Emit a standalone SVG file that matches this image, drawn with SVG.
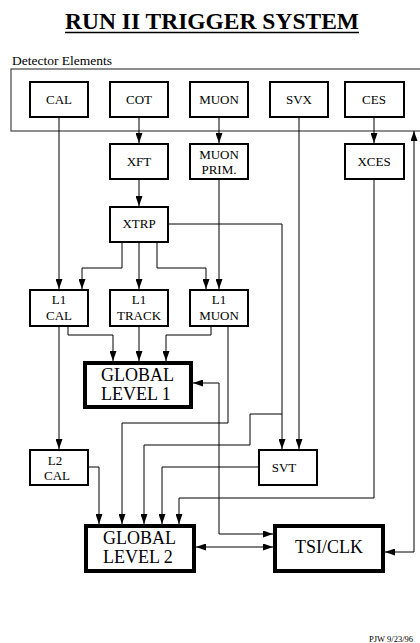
<svg xmlns="http://www.w3.org/2000/svg" width="420" height="643" viewBox="0 0 420 643">
<style>
text{font-family:"Liberation Serif","Times New Roman",serif;fill:#000}
.box{fill:#fff;stroke:#000;stroke-width:2}
.thick{fill:#fff;stroke:#000;stroke-width:4}
.lbl{font-size:13px;text-anchor:middle}
.big{font-size:18px}
.c{fill:none;stroke:#000;stroke-width:1}
</style>
<defs>
<marker id="ah" markerUnits="userSpaceOnUse" markerWidth="10" markerHeight="7" refX="10" refY="3.5" orient="auto-start-reverse">
<path d="M0,0 L10,3.5 L0,7 z" fill="#000"/>
</marker>
</defs>
<rect width="420" height="643" fill="#fff"/>
<text x="212" y="29" font-size="23.5" font-weight="bold" text-anchor="middle">RUN II TRIGGER SYSTEM</text>
<line x1="65" y1="32.5" x2="359" y2="32.5" stroke="#000" stroke-width="1.5"/>
<text x="12" y="65" font-size="13.5">Detector Elements</text>
<rect id="detector-elements" x="11" y="69" width="420" height="62" fill="none" stroke="#444" stroke-width="1.2"/>

<g id="connectors" class="c" marker-end="url(#ah)">
<path class="c" d="M59,118 V289" marker-end="url(#ah)"/>
<path class="c" d="M139,118 V143" marker-end="url(#ah)"/>
<path class="c" d="M219,118 V143" marker-end="url(#ah)"/>
<path class="c" d="M374,118 V143" marker-end="url(#ah)"/>
<path class="c" d="M139,180 V206" marker-end="url(#ah)"/>
<path class="c" d="M219,180 V289" marker-end="url(#ah)"/>
<path class="c" d="M122,242 V268 H82 V289" marker-end="url(#ah)"/>
<path class="c" d="M139,242 V289" marker-end="url(#ah)"/>
<path class="c" d="M157,242 V268 H206 V289" marker-end="url(#ah)"/>
<path class="c" d="M169,224 H282 V449" marker-end="url(#ah)"/>
<path class="c" d="M282,414 H250 V445 H144 V524" marker-end="url(#ah)"/>
<path class="c" d="M299,118 V449" marker-end="url(#ah)"/>
<path class="c" d="M68,327 V335 H113 V361" marker-end="url(#ah)"/>
<path class="c" d="M139,327 V361" marker-end="url(#ah)"/>
<path class="c" d="M211,327 V335 H166 V361" marker-end="url(#ah)"/>
<path class="c" d="M59,327 V449" marker-end="url(#ah)"/>
<path class="c" d="M228,327 V423 H122 V524" marker-end="url(#ah)"/>
<path class="c" d="M193,383 H219 V534 H273" marker-start="url(#ah)" marker-end="url(#ah)"/>
<path class="c" d="M89,467 H99 V524" marker-end="url(#ah)"/>
<path class="c" d="M258,467 H162 V524" marker-end="url(#ah)"/>
<path class="c" d="M374,180 V498 H179 V524" marker-end="url(#ah)"/>
<path class="c" d="M196,547 H273" marker-start="url(#ah)" marker-end="url(#ah)"/>
<path class="c" d="M385,552 H414 V131" marker-start="url(#ah)" marker-end="url(#ah)"/>
</g>

<g id="cal"><rect class="box" x="30" y="82" width="58" height="35"/><text class="lbl" x="59" y="104">CAL</text></g>
<g id="cot"><rect class="box" x="110" y="82" width="58" height="35"/><text class="lbl" x="139" y="104">COT</text></g>
<g id="muon"><rect class="box" x="190" y="82" width="58" height="35"/><text class="lbl" x="219" y="104">MUON</text></g>
<g id="svx"><rect class="box" x="270" y="82" width="58" height="35"/><text class="lbl" x="299" y="104">SVX</text></g>
<g id="ces"><rect class="box" x="345" y="82" width="59" height="35"/><text class="lbl" x="374" y="104">CES</text></g>

<g id="xft"><rect class="box" x="110" y="144" width="58" height="35"/><text class="lbl" x="139" y="166">XFT</text></g>
<g id="muon-prim"><rect class="box" x="190" y="144" width="58" height="35"/><text class="lbl" x="219" y="159">MUON</text><text class="lbl" x="219" y="174">PRIM.</text></g>
<g id="xces"><rect class="box" x="345" y="144" width="59" height="35"/><text class="lbl" x="374" y="166">XCES</text></g>

<g id="xtrp"><rect class="box" x="110" y="207" width="58" height="35"/><text class="lbl" x="139" y="228">XTRP</text></g>

<g id="l1-cal"><rect class="box" x="30" y="290" width="58" height="36"/><text class="lbl" x="59" y="304">L1</text><text class="lbl" x="59" y="320">CAL</text></g>
<g id="l1-track"><rect class="box" x="110" y="290" width="58" height="36"/><text class="lbl" x="139" y="304">L1</text><text class="lbl" x="139" y="320">TRACK</text></g>
<g id="l1-muon"><rect class="box" x="190" y="290" width="58" height="36"/><text class="lbl" x="219" y="304">L1</text><text class="lbl" x="219" y="320">MUON</text></g>

<g id="global-level-1"><rect class="thick" x="85" y="363" width="106" height="44"/><text class="big" x="101" y="381">GLOBAL</text><text class="big" x="101" y="400">LEVEL 1</text></g>

<g id="l2-cal"><rect class="box" x="30" y="450" width="58" height="35"/><text class="lbl" x="55" y="465">L2</text><text class="lbl" x="57" y="480">CAL</text></g>
<g id="svt"><rect class="box" x="259" y="450" width="58" height="35"/><text class="lbl" x="284" y="472">SVT</text></g>

<g id="global-level-2"><rect class="thick" x="86" y="526" width="108" height="45"/><text class="big" x="103" y="544">GLOBAL</text><text class="big" x="103" y="563">LEVEL 2</text></g>
<g id="tsi-clk"><rect class="thick" x="275" y="526" width="108" height="45"/><text class="big" x="329" y="553" text-anchor="middle">TSI/CLK</text></g>

<text x="369" y="642" font-size="8.5">PJW 9/23/96</text>
</svg>
